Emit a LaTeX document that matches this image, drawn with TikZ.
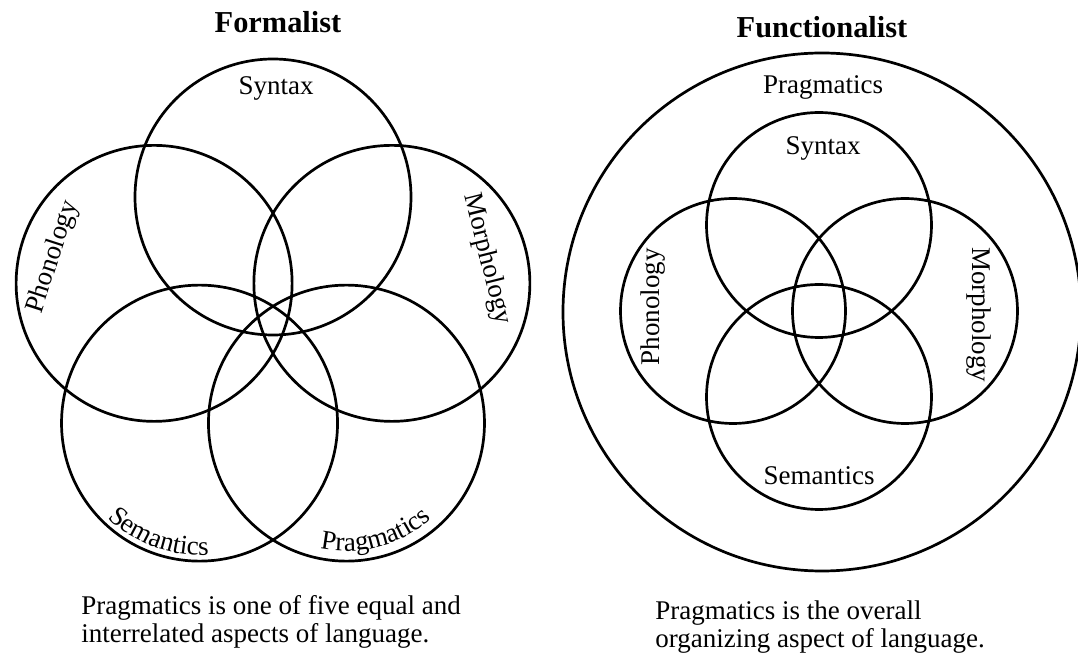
\documentclass[tikz,border=0pt]{standalone}
\usepackage{fontspec}
\setmainfont{Liberation Serif}
\usetikzlibrary{calc,decorations.text}
\newcommand\labfont{\fontsize{13.5pt}{16pt}\selectfont}
\newcommand\ttlfont{\fontsize{15.2pt}{18pt}\selectfont\bfseries}
\begin{document}
\begin{tikzpicture}[x=0.5pt,y=0.5pt,
  ring/.style={draw=black,line width=1.35pt},
  lab/.style={inner sep=0pt,font=\labfont},
  ttl/.style={inner sep=0pt,font=\ttlfont,anchor=base},
  captxt/.style={inner sep=0pt,font=\labfont,anchor=base west}]
\useasboundingbox (0,0) rectangle (1078,654);
% ---------- Formalist ----------
\coordinate (fc) at (273,332);
\coordinate (fsyn) at ($(fc)+(90:125)$);
\coordinate (fpho) at ($(fc)+(162:125)$);
\coordinate (fmor) at ($(fc)+(18:125)$);
\coordinate (fsem) at ($(fc)+(234:125)$);
\coordinate (fpra) at ($(fc)+(306:125)$);
\foreach \c in {fsyn,fpho,fmor,fsem,fpra} \draw[ring] (\c) circle[radius=138];
\node[ttl] (tform) at (278,621) {Formalist};
\node[lab,anchor=base] (lsyn) at (276,559) {Syntax};
\node[lab,rotate=72] (lpho) at (53,397) {Phonology};
\node[lab,rotate=-76] (lmor) at (487,395) {Morphology};
\path[decorate,decoration={text along path,text align=center,text={|\labfont|Semantics}}]
  (fsem) ++(-150:132) arc[start angle=-150,end angle=-70,radius=132];
\path[decorate,decoration={text along path,text align=center,text={|\labfont|Pragmatics}}]
  (fpra) ++(-120:128) arc[start angle=-120,end angle=-30,radius=128];
\node[captxt] (capf1) at (81,39) {Pragmatics is one of five equal and};
\node[captxt] (capf2) at (81,11) {interrelated aspects of language.};
% ---------- Functionalist ----------
\coordinate (gc) at (822,342);
\coordinate (ic) at (819,343);
\draw[ring] (gc) circle[radius=259];
\coordinate (gsyn) at ($(ic)+(90:86)$);
\coordinate (gpho) at ($(ic)+(180:86)$);
\coordinate (gmor) at ($(ic)+(0:86)$);
\coordinate (gsem) at ($(ic)+(270:86)$);
\foreach \c in {gsyn,gpho,gmor,gsem} \draw[ring] (\c) circle[radius=112.5];
\node[ttl] (tfun) at (822,616) {Functionalist};
\node[lab,anchor=base] (mpra) at (823,560) {Pragmatics};
\node[lab,anchor=base] (msyn) at (823,499) {Syntax};
\node[lab,rotate=90] (mpho) at (653,347) {Phonology};
\node[lab,rotate=-90] (mmor) at (979,339) {Morphology};
\node[lab,anchor=base] (msem) at (819,169) {Semantics};
\node[captxt] (capg1) at (655,34) {Pragmatics is the overall};
\node[captxt] (capg2) at (655,6) {organizing aspect of language.};
\end{tikzpicture}
\end{document}
